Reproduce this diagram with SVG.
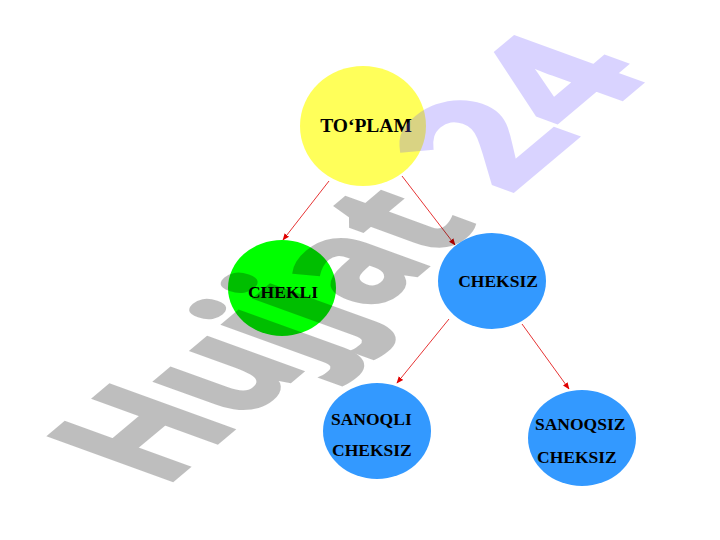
<svg xmlns="http://www.w3.org/2000/svg" width="720" height="540" viewBox="0 0 720 540">
<defs>
<style>
.lbl{font-family:"Liberation Serif","Times New Roman",serif;font-weight:bold;font-size:17.5px;fill:#000;}
.conn{stroke:#e00000;stroke-width:0.8;fill:none;marker-end:url(#arr);}
.wm{font-family:"Open Sans","Liberation Sans",sans-serif;font-weight:bold;stroke-width:5;stroke-linejoin:miter;}
</style>
<marker id="arr" viewBox="0 0 10 10" refX="9" refY="5" markerWidth="7" markerHeight="7" markerUnits="userSpaceOnUse" orient="auto">
<path d="M0,1 L10,5 L0,9 Z" fill="#e00000"/>
</marker>
</defs>
<rect width="720" height="540" fill="#fff"/>
<g id="connectors">
<line class="conn" x1="329" y1="181" x2="283" y2="240"/>
<line class="conn" x1="402" y1="176" x2="455" y2="245"/>
<line class="conn" x1="449" y1="319" x2="397" y2="383"/>
<line class="conn" x1="522" y1="324" x2="569" y2="389"/>
</g>
<g id="node-toplam">
<ellipse cx="363" cy="126" rx="63" ry="60" fill="#ffff5a"/>
<text class="lbl" x="366" y="132" text-anchor="middle" style="font-size:19.5px">TO‘PLAM</text>
</g>
<g id="node-chekli">
<ellipse cx="282" cy="288" rx="54" ry="48" fill="#00ff00"/>
<text class="lbl" x="283" y="298" text-anchor="middle">CHEKLI</text>
</g>
<g id="node-cheksiz">
<ellipse cx="492" cy="281" rx="54" ry="48" fill="#3399ff"/>
<text class="lbl" x="498" y="287" text-anchor="middle">CHEKSIZ</text>
</g>
<g id="node-sanoqli">
<ellipse cx="377" cy="431" rx="54" ry="48" fill="#3399ff"/>
<text class="lbl" x="331" y="425">SANOQLI</text>
<text class="lbl" x="332" y="456">CHEKSIZ</text>
</g>
<g id="node-sanoqsiz">
<ellipse cx="582" cy="438" rx="54" ry="48" fill="#3399ff"/>
<text class="lbl" x="535" y="430">SANOQSIZ</text>
<text class="lbl" x="537" y="463">CHEKSIZ</text>
</g>
<g id="watermark">
<g opacity="0.25">
<text class="wm" transform="matrix(0.566 -0.475 0.940 0.342 163 488)" x="0" y="0" font-size="182" fill="#000" stroke="#000">Hujjat</text>
</g>
<g opacity="0.25">
<text class="wm" transform="matrix(0.680 -0.571 0.940 0.342 508 195)" x="0" y="0" font-size="188" fill="#6b53ff" stroke="#6b53ff">24</text>
</g>
</g>
</svg>
